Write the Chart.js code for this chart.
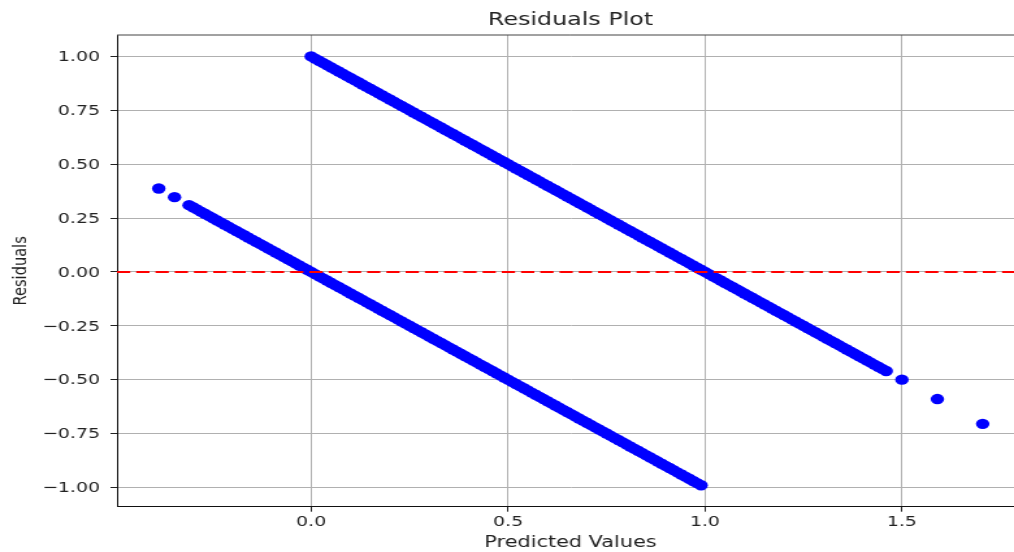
<!DOCTYPE html>
<html>
<head>
<meta charset="utf-8">
<script src="https://cdn.jsdelivr.net/npm/chart.js@4.4.1/dist/chart.umd.min.js"></script>
<style>
html,body{margin:0;padding:0;background:#fff;overflow:hidden;width:1014px;height:552px;}
#wrap{position:absolute;left:0;top:0;width:800px;height:552px;transform:scaleX(1.3);transform-origin:0 0;}
canvas{display:block;}
</style>
</head>
<body>
<div id="wrap"><canvas id="c" width="800" height="552"></canvas></div>
<script>
// ---- data ----
const chartTitle = 'Residuals Plot';
const xAxisLabel = 'Predicted Values';
const yAxisLabel = 'Residuals';

// observations with true class 0 (residual = 0 - predicted)
const lowerPred = [
  -0.387,-0.347,-0.31,
  -0.30,-0.29,-0.28,-0.27,-0.26,-0.25,-0.24,-0.23,-0.22,-0.21,
  -0.20,-0.19,-0.18,-0.17,-0.16,-0.15,-0.14,-0.13,-0.12,-0.11,
  -0.10,-0.09,-0.08,-0.07,-0.06,-0.05,-0.04,-0.03,-0.02,-0.01,
  0.00,0.01,0.02,0.03,0.04,0.05,0.06,0.07,0.08,0.09,
  0.10,0.11,0.12,0.13,0.14,0.15,0.16,0.17,0.18,0.19,
  0.20,0.21,0.22,0.23,0.24,0.25,0.26,0.27,0.28,0.29,
  0.30,0.31,0.32,0.33,0.34,0.35,0.36,0.37,0.38,0.39,
  0.40,0.41,0.42,0.43,0.44,0.45,0.46,0.47,0.48,0.49,
  0.50,0.51,0.52,0.53,0.54,0.55,0.56,0.57,0.58,0.59,
  0.60,0.61,0.62,0.63,0.64,0.65,0.66,0.67,0.68,0.69,
  0.70,0.71,0.72,0.73,0.74,0.75,0.76,0.77,0.78,0.79,
  0.80,0.81,0.82,0.83,0.84,0.85,0.86,0.87,0.88,0.89,
  0.90,0.91,0.92,0.93,0.94,0.95,0.96,0.97,0.98,0.99
];
const lowerResid = [
  0.387,0.347,0.31,
  0.30,0.29,0.28,0.27,0.26,0.25,0.24,0.23,0.22,0.21,
  0.20,0.19,0.18,0.17,0.16,0.15,0.14,0.13,0.12,0.11,
  0.10,0.09,0.08,0.07,0.06,0.05,0.04,0.03,0.02,0.01,
  0.00,-0.01,-0.02,-0.03,-0.04,-0.05,-0.06,-0.07,-0.08,-0.09,
  -0.10,-0.11,-0.12,-0.13,-0.14,-0.15,-0.16,-0.17,-0.18,-0.19,
  -0.20,-0.21,-0.22,-0.23,-0.24,-0.25,-0.26,-0.27,-0.28,-0.29,
  -0.30,-0.31,-0.32,-0.33,-0.34,-0.35,-0.36,-0.37,-0.38,-0.39,
  -0.40,-0.41,-0.42,-0.43,-0.44,-0.45,-0.46,-0.47,-0.48,-0.49,
  -0.50,-0.51,-0.52,-0.53,-0.54,-0.55,-0.56,-0.57,-0.58,-0.59,
  -0.60,-0.61,-0.62,-0.63,-0.64,-0.65,-0.66,-0.67,-0.68,-0.69,
  -0.70,-0.71,-0.72,-0.73,-0.74,-0.75,-0.76,-0.77,-0.78,-0.79,
  -0.80,-0.81,-0.82,-0.83,-0.84,-0.85,-0.86,-0.87,-0.88,-0.89,
  -0.90,-0.91,-0.92,-0.93,-0.94,-0.95,-0.96,-0.97,-0.98,-0.99
];

// observations with true class 1 (residual = 1 - predicted)
const upperPred = [
  0.00,0.01,0.02,0.03,0.04,0.05,0.06,0.07,0.08,0.09,
  0.10,0.11,0.12,0.13,0.14,0.15,0.16,0.17,0.18,0.19,
  0.20,0.21,0.22,0.23,0.24,0.25,0.26,0.27,0.28,0.29,
  0.30,0.31,0.32,0.33,0.34,0.35,0.36,0.37,0.38,0.39,
  0.40,0.41,0.42,0.43,0.44,0.45,0.46,0.47,0.48,0.49,
  0.50,0.51,0.52,0.53,0.54,0.55,0.56,0.57,0.58,0.59,
  0.60,0.61,0.62,0.63,0.64,0.65,0.66,0.67,0.68,0.69,
  0.70,0.71,0.72,0.73,0.74,0.75,0.76,0.77,0.78,0.79,
  0.80,0.81,0.82,0.83,0.84,0.85,0.86,0.87,0.88,0.89,
  0.90,0.91,0.92,0.93,0.94,0.95,0.96,0.97,0.98,0.99,
  1.00,1.01,1.02,1.03,1.04,1.05,1.06,1.07,1.08,1.09,
  1.10,1.11,1.12,1.13,1.14,1.15,1.16,1.17,1.18,1.19,
  1.20,1.21,1.22,1.23,1.24,1.25,1.26,1.27,1.28,1.29,
  1.30,1.31,1.32,1.33,1.34,1.35,1.36,1.37,1.38,1.39,
  1.40,1.41,1.42,1.43,1.44,1.45,1.46,
  1.50,1.59,1.705
];
const upperResid = [
  1.00,0.99,0.98,0.97,0.96,0.95,0.94,0.93,0.92,0.91,
  0.90,0.89,0.88,0.87,0.86,0.85,0.84,0.83,0.82,0.81,
  0.80,0.79,0.78,0.77,0.76,0.75,0.74,0.73,0.72,0.71,
  0.70,0.69,0.68,0.67,0.66,0.65,0.64,0.63,0.62,0.61,
  0.60,0.59,0.58,0.57,0.56,0.55,0.54,0.53,0.52,0.51,
  0.50,0.49,0.48,0.47,0.46,0.45,0.44,0.43,0.42,0.41,
  0.40,0.39,0.38,0.37,0.36,0.35,0.34,0.33,0.32,0.31,
  0.30,0.29,0.28,0.27,0.26,0.25,0.24,0.23,0.22,0.21,
  0.20,0.19,0.18,0.17,0.16,0.15,0.14,0.13,0.12,0.11,
  0.10,0.09,0.08,0.07,0.06,0.05,0.04,0.03,0.02,0.01,
  0.00,-0.01,-0.02,-0.03,-0.04,-0.05,-0.06,-0.07,-0.08,-0.09,
  -0.10,-0.11,-0.12,-0.13,-0.14,-0.15,-0.16,-0.17,-0.18,-0.19,
  -0.20,-0.21,-0.22,-0.23,-0.24,-0.25,-0.26,-0.27,-0.28,-0.29,
  -0.30,-0.31,-0.32,-0.33,-0.34,-0.35,-0.36,-0.37,-0.38,-0.39,
  -0.40,-0.41,-0.42,-0.43,-0.44,-0.45,-0.46,
  -0.50,-0.59,-0.705
];

const referenceY = 0;               // red dashed line
const xTickValues = [0, 0.5, 1, 1.5];
const xTickLabels = ['0.0', '0.5', '1.0', '1.5'];
const yTickValues = [-1, -0.75, -0.5, -0.25, 0, 0.25, 0.5, 0.75, 1];
const yTickLabels = ['\u22121.00', '\u22120.75', '\u22120.50', '\u22120.25', '0.00', '0.25', '0.50', '0.75', '1.00'];
const xLimits = [-0.493, 1.81];
const yLimits = [-1.0895, 1.0995];

// ---- chart ----
const FONT = "'DejaVu Sans', sans-serif";
const toPoints = (xs, ys) => xs.map((x, i) => ({x: x, y: ys[i]}));

const refLinePlugin = {
  id: 'refLine',
  afterDatasetsDraw(chart) {
    const {ctx, chartArea, scales} = chart;
    const y = scales.y.getPixelForValue(referenceY);
    ctx.save();
    ctx.beginPath();
    ctx.rect(chartArea.left, chartArea.top, chartArea.right - chartArea.left, chartArea.bottom - chartArea.top);
    ctx.clip();
    ctx.strokeStyle = '#ff0000';
    ctx.lineWidth = 1.9;
    ctx.setLineDash([10.2, 4.6]);
    ctx.beginPath();
    ctx.moveTo(chartArea.left, y);
    ctx.lineTo(chartArea.right, y);
    ctx.stroke();
    ctx.restore();
  },
  afterDraw(chart) {
    const {ctx, chartArea} = chart;
    ctx.save();
    ctx.strokeStyle = '#444';
    ctx.lineWidth = 1;
    ctx.beginPath();
    ctx.moveTo(chartArea.left, chartArea.top);
    ctx.lineTo(chartArea.right, chartArea.top);
    ctx.lineTo(chartArea.right, chartArea.bottom);
    ctx.stroke();
    ctx.restore();
  }
};

new Chart(document.getElementById('c'), {
  type: 'scatter',
  data: {
    datasets: [
      {label: 'class 0', data: toPoints(lowerPred, lowerResid),
       backgroundColor: '#0000ff', borderColor: '#0000ff', borderWidth: 0, pointRadius: 5.2, pointHoverRadius: 5.2},
      {label: 'class 1', data: toPoints(upperPred, upperResid),
       backgroundColor: '#0000ff', borderColor: '#0000ff', borderWidth: 0, pointRadius: 5.2, pointHoverRadius: 5.2}
    ]
  },
  options: {
    responsive: false,
    animation: false,
    devicePixelRatio: 1,
    layout: {padding: {left: 0, right: 12.3, top: 0, bottom: 0}},
    plugins: {
      legend: {display: false},
      tooltip: {enabled: false},
      title: {
        display: true, text: chartTitle, fullSize: false,
        color: '#222', font: {family: FONT, size: 18.3, weight: 'normal'},
        padding: {top: 9.5, bottom: 3.54}
      }
    },
    scales: {
      x: {
        type: 'linear', min: xLimits[0], max: xLimits[1],
        afterBuildTicks: s => { s.ticks = xTickValues.map(v => ({value: v})); },
        afterFit: s => { s.height = 45.3; },
        ticks: {
          autoSkip: false, maxRotation: 0, padding: 2.3, color: '#222',
          font: {family: FONT, size: 14.5},
          callback: (v, i) => xTickLabels[i]
        },
        grid: {color: '#b0b0b0', lineWidth: 1, tickColor: '#222', tickLength: 5, drawTicks: true},
        border: {display: true, color: '#111', width: 1},
        title: {display: true, text: xAxisLabel, color: '#222',
                font: {family: FONT, size: 16}, padding: {top: 0, bottom: 0}}
      },
      y: {
        type: 'linear', min: yLimits[0], max: yLimits[1],
        afterBuildTicks: s => { s.ticks = yTickValues.map(v => ({value: v})); },
        afterFit: s => { s.width = 90; },
        ticks: {
          autoSkip: false, padding: 8.1, color: '#222', labelOffset: 1,
          font: {family: FONT, size: 14.5},
          callback: (v, i) => yTickLabels[i]
        },
        grid: {color: '#b0b0b0', lineWidth: 1, tickColor: '#222', tickLength: 5, drawTicks: true},
        border: {display: true, color: '#111', width: 1},
        title: {display: true, text: yAxisLabel, color: '#222',
                font: {family: FONT, size: 14.6}, padding: {top: 7, bottom: 0}}
      }
    }
  },
  plugins: [refLinePlugin]
});
</script>
</body>
</html>
